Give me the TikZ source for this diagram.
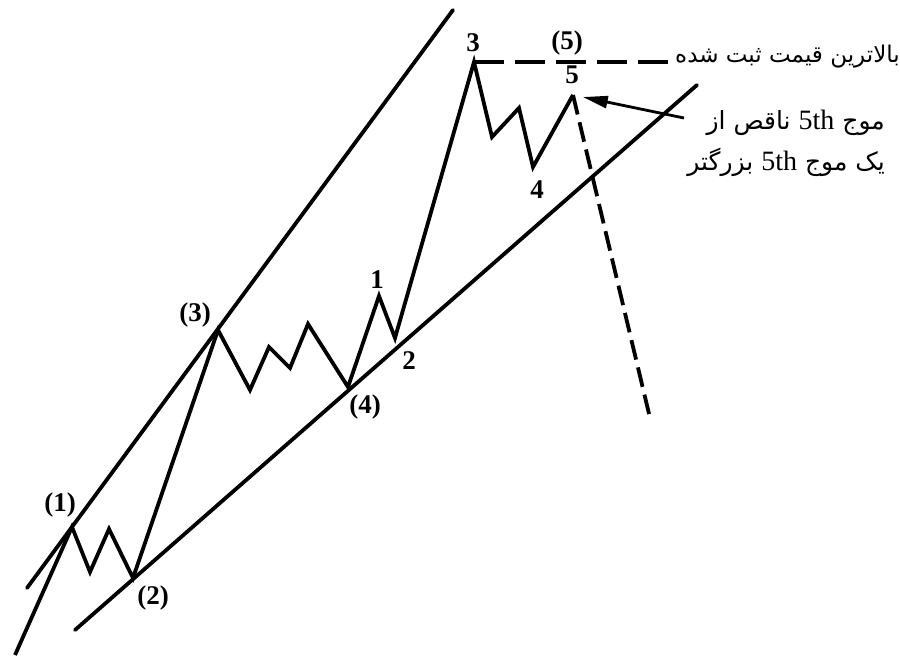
\documentclass[tikz,border=0pt]{standalone}
\usepackage{fontspec}
\setmainfont{Liberation Serif}
\newfontfamily\farsi[Script=Arabic]{DejaVu Sans}
\TeXXeTstate=1
\usetikzlibrary{arrows.meta}
% one word, set right to left in its own box
\newcommand\fw[1]{\hbox{\beginR #1\endR}}

\begin{document}
\begin{tikzpicture}[x=1pt,y=-1pt,
    wave/.style={line width=3.8pt},
    trend/.style={line width=3.8pt,line cap=round},
    hdash/.style={line width=3.8pt,dash pattern=on 30pt off 11pt},
    vdash/.style={line width=3.8pt,dash pattern=on 20pt off 8pt},
    pointer/.style={line width=2.8pt,-{Triangle[length=25pt,width=12pt]}},
    num/.style={font=\fontsize{27}{27}\selectfont\bfseries,inner sep=0pt},
    note/.style={font=\fontsize{23}{23}\selectfont\farsi,inner sep=0pt},
    note2/.style={font=\fontsize{25}{25}\selectfont\farsi,inner sep=0pt}]
\useasboundingbox (0,0) rectangle (900,659);

% wave points
\coordinate (s) at (15,655);
\coordinate (w1) at (72,527);
\coordinate (a1) at (90,572);
\coordinate (b1) at (109,529);
\coordinate (w2) at (133,578);
\coordinate (w3) at (218,330);
\coordinate (a3) at (250,390);
\coordinate (b3) at (269,347);
\coordinate (c3) at (290,368);
\coordinate (d3) at (308,324);
\coordinate (w4) at (348,387);
\coordinate (i1) at (379,296);
\coordinate (i2) at (395,338);
\coordinate (i3) at (474,62);
\coordinate (a5) at (492,137);
\coordinate (b5) at (519,108);
\coordinate (i4) at (533,167);
\coordinate (i5) at (573,95);
\coordinate (e) at (650,418);
\coordinate (top) at (673,62);

% channel lines
\coordinate (ul) at (27,588);
\coordinate (ur) at (453,10);
\coordinate (ll) at (75,630);
\coordinate (lr) at (697,85);

\draw[trend] (ul) -- (ur);
\draw[trend] (ll) -- (lr);

\draw[wave] (s) -- (w1) -- (a1) -- (b1) -- (w2) -- (w3) -- (a3) -- (b3)
  -- (c3) -- (d3) -- (w4) -- (i1) -- (i2) -- (i3) -- (a5) -- (b5) -- (i4) -- (i5);
\draw[vdash] (i5) -- (e);
\draw[hdash] (i3) -- (top);

% labels
\node[num] (l1) at (60,505) {(1)};
\node[num] (l2) at (153,598) {(2)};
\node[num] (l3) at (195,315) {(3)};
\node[num] (l4) at (365,407) {(4)};
\node[num] (l5) at (567,43) {(5)};
\node[num] (n1) at (377,280) {1};
\node[num] (n2) at (409,361) {2};
\node[num] (n3) at (473,43) {3};
\node[num] (n4) at (537,190) {4};
\node[num] (n5) at (572,75) {5};

% words as the picture lays them out, left to right
\node[note,anchor=base west] (high) at (675,62)
  {\fw{شده} \fw{ثبت} \fw{قیمت} \fw{بالاترین}};
\node[note2,anchor=base east] (note1) at (885,129)
  {\fw{از} \fw{ناقص} {\rmfamily\fontsize{28}{28}\selectfont 5th} \fw{موج}};
\node[note2,anchor=base east] (note2) at (885,170)
  {\fw{بزرگتر} {\rmfamily\fontsize{28}{28}\selectfont 5th} \fw{موج} \fw{یک}};

\coordinate (tail) at (684,118);
\draw[pointer] (tail) -- (i5) [shorten >=10pt];
\end{tikzpicture}
\end{document}
